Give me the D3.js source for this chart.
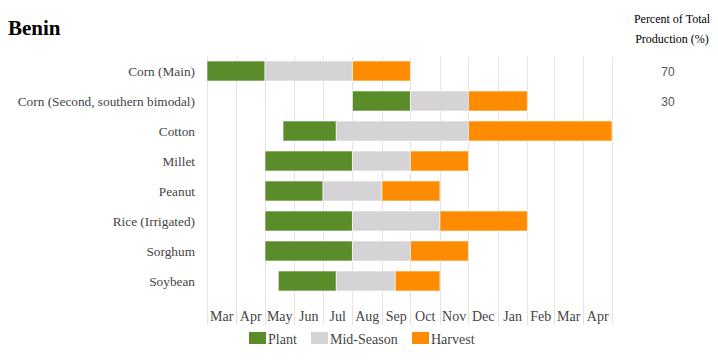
<!DOCTYPE html>
<html>
<head>
<meta charset="utf-8">
<script src="https://cdn.jsdelivr.net/npm/d3@7"></script>
<style>
    body { margin: 0; background: #fff; }
    svg text { font-family: "Liberation Serif", "Times New Roman", serif; }
</style>
</head>
<body>
<svg width="718" height="361"></svg>
<script>
// crop calendar data (dates are stage boundaries)
let crops = ["Corn (Main)", "Corn (Second, southern bimodal)", "Cotton", "Millet", "Peanut", "Rice (Irrigated)", "Sorghum", "Soybean"];
let percents = ["70", "30", "", "", "", "", "", ""];
let plantStart = ["2021-03-01", "2021-08-01", "2021-05-20", "2021-05-01", "2021-05-01", "2021-05-01", "2021-05-01", "2021-05-15"];
let plantEnd = ["2021-05-01", "2021-10-01", "2021-07-15", "2021-08-01", "2021-07-01", "2021-08-01", "2021-08-01", "2021-07-15"];
let midEnd = ["2021-08-01", "2021-12-01", "2021-12-01", "2021-10-01", "2021-09-01", "2021-11-01", "2021-10-01", "2021-09-15"];
let harvestEnd = ["2021-10-01", "2022-02-01", "2022-05-01", "2021-12-01", "2021-11-01", "2022-02-01", "2021-12-01", "2021-11-01"];
let stages = ["Plant", "Mid-Season", "Harvest"];
let colors = ["#5b8c2a", "#d5d3d6", "#ff8c00"];

let parse = d3.timeParse("%Y-%m-%d");
let data = crops.map((c, i) => ({
    crop: c,
    pct: percents[i],
    segs: [
        [parse(plantStart[i]), parse(plantEnd[i])],
        [parse(plantEnd[i]), parse(midEnd[i])],
        [parse(midEnd[i]), parse(harvestEnd[i])]
    ]
}));

let svg = d3.select("svg");
let plotTop = 56, plotBottom = 296;

let xScale = d3.scaleTime()
    .domain([parse("2021-03-01"), parse("2022-05-01")])
    .range([207, 612]);

let yScale = d3.scaleBand()
    .domain(crops)
    .range([plotTop, plotBottom])
    .paddingInner(1 / 3)
    .paddingOuter(1 / 6);

// title
svg.append("text")
    .attr("x", 8).attr("y", 35)
    .style("font-size", "21px").style("font-weight", "bold")
    .text("Benin");

// header for percentages
svg.append("text")
    .attr("x", 672).attr("y", 23)
    .style("text-anchor", "middle").style("font-size", "12px")
    .text("Percent of Total");
svg.append("text")
    .attr("x", 672).attr("y", 43)
    .style("text-anchor", "middle").style("font-size", "12px")
    .text("Production (%)");

// gridlines at month starts
let months = xScale.ticks(d3.timeMonth.every(1));
svg.append("g").selectAll("line")
    .data(months)
    .enter().append("line")
    .attr("x1", d => Math.round(xScale(d)) + 0.5).attr("x2", d => Math.round(xScale(d)) + 0.5)
    .attr("y1", 57).attr("y2", 325)
    .style("stroke", "#e3e3e3").style("stroke-width", 1);

// month labels centred in each month
svg.append("g").selectAll("text")
    .data(months.slice(0, -1))
    .enter().append("text")
    .attr("x", d => (xScale(d) + xScale(d3.timeMonth.offset(d, 1))) / 2)
    .attr("y", 321)
    .style("text-anchor", "middle").style("font-size", "14px").style("fill", "#444")
    .text(d => d3.timeFormat("%b")(d));

// row labels
svg.append("g").selectAll("text")
    .data(data)
    .enter().append("text")
    .attr("x", 195)
    .attr("y", d => yScale(d.crop) + yScale.bandwidth() / 2 + 4.5)
    .style("text-anchor", "end").style("font-size", "13.3px").style("fill", "#444")
    .text(d => d.crop);

// percent values
svg.append("g").selectAll("text")
    .data(data)
    .enter().append("text")
    .attr("x", 668)
    .attr("y", d => yScale(d.crop) + yScale.bandwidth() / 2 + 4.5)
    .style("text-anchor", "middle").style("font-size", "12px").style("fill", "#555")
    .style("font-family", "'Liberation Sans', Arial, sans-serif")
    .text(d => d.pct);

// bars
let rows = svg.append("g").selectAll("g")
    .data(data)
    .enter().append("g");

rows.selectAll("rect")
    .data(d => d.segs.map((s, j) => ({ crop: d.crop, s: s, j: j })))
    .enter().append("rect")
    .attr("x", d => xScale(d.s[0]))
    .attr("y", d => yScale(d.crop))
    .attr("width", d => xScale(d.s[1]) - xScale(d.s[0]))
    .attr("height", yScale.bandwidth())
    .style("fill", d => colors[d.j])
    .style("stroke", "#fff").style("stroke-opacity", 0.6).style("stroke-width", 1);

// legend
let legendX = [249, 311, 412];
let legend = svg.append("g").selectAll("g")
    .data(stages)
    .enter().append("g")
    .attr("transform", (d, i) => "translate(" + legendX[i] + ",332)");
legend.append("rect")
    .attr("width", 17).attr("height", 12)
    .style("fill", (d, i) => colors[i]);
legend.append("text")
    .attr("x", 19).attr("y", 12)
    .style("font-size", "14px").style("fill", "#444")
    .text(d => d);
</script>
</body>
</html>
